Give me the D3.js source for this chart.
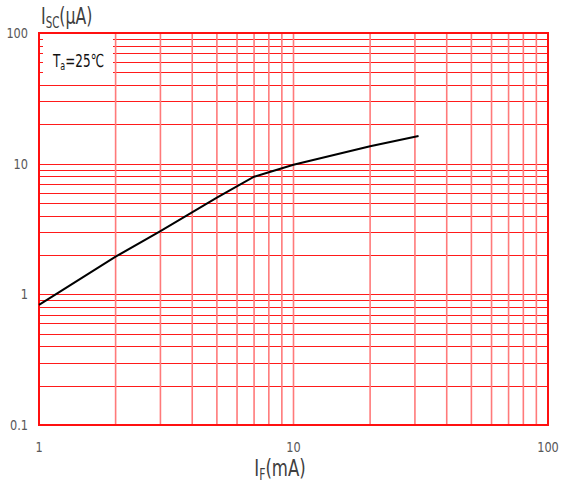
<!DOCTYPE html>
<html>
<head>
<meta charset="utf-8">
<script src="https://cdn.jsdelivr.net/npm/d3@7"></script>
<style>
  body { margin: 0; background: #fff; }
  text { font-family: "Liberation Sans Narrow", "Arial Narrow", "DejaVu Sans Condensed", sans-serif; }
</style>
</head>
<body>
<svg width="563" height="486"></svg>
<script>
// forward current (mA) vs short circuit current (uA)
var ifValues = [1, 2, 3, 5, 7, 8, 10, 20, 31];
var iscValues = [0.83, 1.94, 3.05, 5.5, 7.95, 8.6, 9.8, 13.6, 16.3];
var xTickLabels = [1, 10, 100];
var yTickLabels = [0.1, 1, 10, 100];

var plotLeft = 39, plotRight = 548, plotTop = 33, plotBottom = 425;

var x = d3.scaleLog().domain([1, 100]).range([plotLeft, plotRight]);
var y = d3.scaleLog().domain([0.1, 100]).range([plotBottom, plotTop]);

var svg = d3.select('svg');

//horizontal grid lines, one per minor tick
svg.append('g')
  .selectAll('line')
  .data(y.ticks())
  .enter()
  .append('line')
    .attr('x1', plotLeft)
    .attr('x2', plotRight)
    .attr('y1', d => Math.round(y(d)) + 0.5)
    .attr('y2', d => Math.round(y(d)) + 0.5)
    .attr('stroke', '#ff1a1a')
    .attr('stroke-width', 1.2);

//the box behind the temperature note hides part of the grid
svg.append('rect')
  .attr('x', 43)
  .attr('y', 34)
  .attr('width', 70)
  .attr('height', 45)
  .attr('fill', '#fff');

//vertical grid lines are lighter
svg.append('g')
  .selectAll('line')
  .data(x.ticks())
  .enter()
  .append('line')
    .attr('x1', d => x(d))
    .attr('x2', d => x(d))
    .attr('y1', plotTop)
    .attr('y2', plotBottom)
    .attr('stroke', '#ff7a7a')
    .attr('stroke-width', 1.6);

//frame
svg.append('rect')
  .attr('x', plotLeft)
  .attr('y', plotTop)
  .attr('width', plotRight - plotLeft)
  .attr('height', plotBottom - plotTop)
  .attr('fill', 'none')
  .attr('stroke', '#ff1010')
  .attr('stroke-width', 2);

//tick labels, squeezed a bit since the original font is narrow
svg.append('g')
  .selectAll('text')
  .data(yTickLabels)
  .enter()
  .append('text')
    .attr('transform', d => 'translate(28,' + y(d) + ') scale(0.9,1)')
    .attr('dy', '0.35em')
    .attr('text-anchor', 'end')
    .attr('fill', '#595959')
    .attr('font-size', 14)
    .text(d => d);

svg.append('g')
  .selectAll('text')
  .data(xTickLabels)
  .enter()
  .append('text')
    .attr('transform', d => 'translate(' + x(d) + ',447) scale(0.9,1)')
    .attr('dy', '0.35em')
    .attr('text-anchor', 'middle')
    .attr('fill', '#595959')
    .attr('font-size', 14)
    .text(d => d);

//curve
var line = d3.line()
  .x((d, i) => x(ifValues[i]))
  .y(d => y(d));

svg.append('path')
  .datum(iscValues)
  .attr('d', line)
  .attr('fill', 'none')
  .attr('stroke', '#000')
  .attr('stroke-width', 2);

//axis titles
var yTitle = svg.append('text')
  .attr('transform', 'translate(41,24) scale(0.76,1)')
  .attr('fill', '#404040')
  .attr('font-size', 23);
yTitle.append('tspan').text('I');
yTitle.append('tspan').attr('font-size', 15).attr('dy', 4).text('SC');
yTitle.append('tspan').attr('dy', -4).text('(μA)');

var xTitle = svg.append('text')
  .attr('transform', 'translate(280,476) scale(0.8,1)')
  .attr('text-anchor', 'middle')
  .attr('fill', '#404040')
  .attr('font-size', 23);
xTitle.append('tspan').text('I');
xTitle.append('tspan').attr('font-size', 15).attr('dy', 4).text('F');
xTitle.append('tspan').attr('dy', -4).text('(mA)');

var note = svg.append('text')
  .attr('transform', 'translate(53,67) scale(0.74,1)')
  .attr('fill', '#111')
  .attr('font-size', 18);
note.append('tspan').text('T');
note.append('tspan').attr('font-size', 12).attr('dy', 3).text('a');
note.append('tspan').attr('dy', -3).text('=25℃');
</script>
</body>
</html>
